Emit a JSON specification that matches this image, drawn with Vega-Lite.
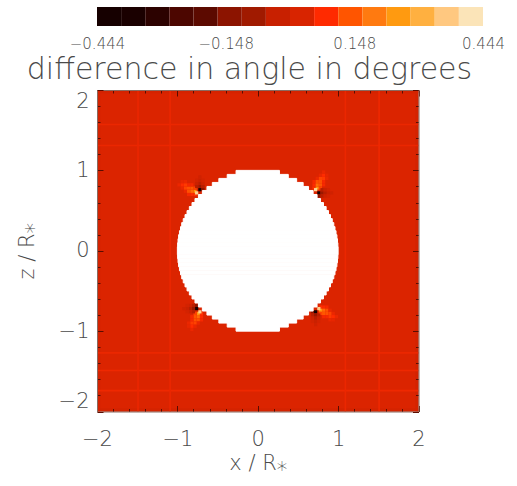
{"$schema":"https://vega.github.io/schema/vega-lite/v6.json","background":"white","padding":{"left":16,"top":7,"right":0,"bottom":0},"spacing":5,"config":{"view":{"stroke":null},"font":"DejaVu Sans","axis":{"grid":false,"labelFont":"DejaVu Sans","titleFont":"DejaVu Sans","labelColor":"#4a4a4a","titleColor":"#4a4a4a","labelFontWeight":200,"titleFontWeight":200}},"vconcat":[{"width":386,"height":19,"data":{"values":[{"x":-0.444,"x2":-0.3885,"v":-0.416},{"x":-0.3885,"x2":-0.333,"v":-0.361},{"x":-0.333,"x2":-0.2775,"v":-0.305},{"x":-0.2775,"x2":-0.222,"v":-0.25},{"x":-0.222,"x2":-0.1665,"v":-0.194},{"x":-0.1665,"x2":-0.111,"v":-0.139},{"x":-0.111,"x2":-0.0555,"v":-0.083},{"x":-0.0555,"x2":0,"v":-0.028},{"x":0,"x2":0.0555,"v":0.028},{"x":0.0555,"x2":0.111,"v":0.083},{"x":0.111,"x2":0.1665,"v":0.139},{"x":0.1665,"x2":0.222,"v":0.194},{"x":0.222,"x2":0.2775,"v":0.25},{"x":0.2775,"x2":0.333,"v":0.305},{"x":0.333,"x2":0.3885,"v":0.361},{"x":0.3885,"x2":0.444,"v":0.416}]},"mark":{"type":"rect"},"encoding":{"x":{"field":"x","type":"quantitative","scale":{"domain":[-0.444,0.444],"nice":false,"zero":false},"axis":{"values":[-0.444,-0.148,0.148,0.444],"format":".3f","domain":false,"ticks":false,"labelFontSize":15,"labelPadding":10,"labelFlush":false,"labelOverlap":false,"title":"difference in angle in degrees","titleFontSize":30,"titlePadding":3,"titleX":152,"titleAnchor":"middle","titleAlign":"center"}},"x2":{"field":"x2"},"color":{"field":"v","type":"quantitative","legend":null,"scale":{"domain":[-0.416,-0.361,-0.305,-0.25,-0.194,-0.139,-0.083,-0.028,0.028,0.083,0.139,0.194,0.25,0.305,0.361,0.416],"range":["#000000","#1a0000","#2c0200","#4c0600","#5c0a00","#8c1400","#a01a00","#c82000","#d82400","#ff2a00","#ff5500","#ff7a10","#ff9a10","#ffb040","#ffc880","#fbe4b8"]}}}},{"width":321.5,"height":321.5,"resolve":{"axis":{"x":"independent","y":"independent"}},"layer":[{"data":{"values":[{"x":-2,"x2":2,"y":-2,"y2":2,"v":0.032},{"x":-2,"x2":2,"y":1.96,"y2":2,"v":0.015},{"x":-2,"x2":2,"y":-2,"y2":-1.96,"v":0.015},{"x":-2,"x2":-1.96,"y":-2,"y2":2,"v":0.015},{"x":1.96,"x2":2,"y":-2,"y2":2,"v":0.015},{"x":-2,"x2":2,"y":1.56,"y2":1.58,"v":0.055},{"x":-2,"x2":2,"y":1.3,"y2":1.32,"v":0.055},{"x":-2,"x2":2,"y":-1.5,"y2":-1.48,"v":0.06},{"x":-2,"x2":2,"y":-1.28,"y2":-1.26,"v":0.055},{"x":-2,"x2":2,"y":-1.75,"y2":-1.73,"v":0.06},{"x":-1.1,"x2":-1.08,"y":-2,"y2":2,"v":0.055},{"x":1.5,"x2":1.52,"y":-2,"y2":2,"v":0.06},{"x":1.08,"x2":1.1,"y":-2,"y2":2,"v":0.055},{"x":-1.5,"x2":-1.48,"y":-2,"y2":2,"v":0.055},
{"x":0.68,"x2":0.72,"y":0.76,"y2":0.8,"v":0.09},{"x":0.72,"x2":0.76,"y":0.76,"y2":0.8,"v":0.24},{"x":0.76,"x2":0.8,"y":0.76,"y2":0.8,"v":0.11},{"x":0.68,"x2":0.72,"y":0.8,"y2":0.84,"v":0.08},{"x":0.72,"x2":0.76,"y":0.8,"y2":0.84,"v":0.17},{"x":0.76,"x2":0.8,"y":0.8,"y2":0.84,"v":0.14},{"x":0.8,"x2":0.84,"y":0.8,"y2":0.84,"v":0.07},{"x":0.68,"x2":0.72,"y":0.84,"y2":0.88,"v":0.07},{"x":0.72,"x2":0.76,"y":0.84,"y2":0.88,"v":0.13},{"x":0.76,"x2":0.8,"y":0.84,"y2":0.88,"v":0.13},{"x":0.8,"x2":0.84,"y":0.84,"y2":0.88,"v":0.07},{"x":0.72,"x2":0.76,"y":0.88,"y2":0.92,"v":0.055},{"x":0.76,"x2":0.8,"y":0.88,"y2":0.92,"v":0.11},{"x":0.8,"x2":0.84,"y":0.88,"y2":0.92,"v":0.1},{"x":0.84,"x2":0.88,"y":0.88,"y2":0.92,"v":0.055},{"x":0.76,"x2":0.8,"y":0.92,"y2":0.96,"v":0.055},{"x":0.8,"x2":0.84,"y":0.92,"y2":0.96,"v":0.085},{"x":0.84,"x2":0.88,"y":0.92,"y2":0.96,"v":0.05},{"x":0.8,"x2":0.84,"y":0.96,"y2":1,"v":0.055},{"x":0.7,"x2":0.74,"y":0.74,"y2":0.78,"v":0.38},{"x":0.74,"x2":0.78,"y":0.7,"y2":0.74,"v":-0.42},{"x":0.78,"x2":0.82,"y":0.7,"y2":0.74,"v":-0.1},{"x":0.82,"x2":0.86,"y":0.7,"y2":0.74,"v":-0.05},{"x":0.86,"x2":0.9,"y":0.7,"y2":0.74,"v":-0.02},{"x":0.9,"x2":0.94,"y":0.7,"y2":0.74,"v":0},{"x":0.78,"x2":0.82,"y":0.74,"y2":0.78,"v":-0.05},{"x":0.82,"x2":0.86,"y":0.74,"y2":0.78,"v":-0.02},{"x":0.86,"x2":0.9,"y":0.74,"y2":0.78,"v":0.01},{"x":0.74,"x2":0.78,"y":0.66,"y2":0.7,"v":-0.14},{"x":0.78,"x2":0.82,"y":0.66,"y2":0.7,"v":-0.05},{"x":0.82,"x2":0.86,"y":0.66,"y2":0.7,"v":-0.01},{"x":0.86,"x2":0.9,"y":0.66,"y2":0.7,"v":0.01},
{"x":-0.8,"x2":-0.76,"y":0.68,"y2":0.72,"v":0.09},{"x":-0.8,"x2":-0.76,"y":0.72,"y2":0.76,"v":0.24},{"x":-0.8,"x2":-0.76,"y":0.76,"y2":0.8,"v":0.11},{"x":-0.84,"x2":-0.8,"y":0.68,"y2":0.72,"v":0.08},{"x":-0.84,"x2":-0.8,"y":0.72,"y2":0.76,"v":0.17},{"x":-0.84,"x2":-0.8,"y":0.76,"y2":0.8,"v":0.14},{"x":-0.84,"x2":-0.8,"y":0.8,"y2":0.84,"v":0.07},{"x":-0.88,"x2":-0.84,"y":0.68,"y2":0.72,"v":0.07},{"x":-0.88,"x2":-0.84,"y":0.72,"y2":0.76,"v":0.13},{"x":-0.88,"x2":-0.84,"y":0.76,"y2":0.8,"v":0.13},{"x":-0.88,"x2":-0.84,"y":0.8,"y2":0.84,"v":0.07},{"x":-0.92,"x2":-0.88,"y":0.72,"y2":0.76,"v":0.055},{"x":-0.92,"x2":-0.88,"y":0.76,"y2":0.8,"v":0.11},{"x":-0.92,"x2":-0.88,"y":0.8,"y2":0.84,"v":0.1},{"x":-0.92,"x2":-0.88,"y":0.84,"y2":0.88,"v":0.055},{"x":-0.96,"x2":-0.92,"y":0.76,"y2":0.8,"v":0.055},{"x":-0.96,"x2":-0.92,"y":0.8,"y2":0.84,"v":0.085},{"x":-0.96,"x2":-0.92,"y":0.84,"y2":0.88,"v":0.05},{"x":-1,"x2":-0.96,"y":0.8,"y2":0.84,"v":0.055},{"x":-0.78,"x2":-0.74,"y":0.7,"y2":0.74,"v":0.38},{"x":-0.74,"x2":-0.7,"y":0.74,"y2":0.78,"v":-0.42},{"x":-0.74,"x2":-0.7,"y":0.78,"y2":0.82,"v":-0.1},{"x":-0.74,"x2":-0.7,"y":0.82,"y2":0.86,"v":-0.05},{"x":-0.74,"x2":-0.7,"y":0.86,"y2":0.9,"v":-0.02},{"x":-0.74,"x2":-0.7,"y":0.9,"y2":0.94,"v":0},{"x":-0.78,"x2":-0.74,"y":0.78,"y2":0.82,"v":-0.05},{"x":-0.78,"x2":-0.74,"y":0.82,"y2":0.86,"v":-0.02},{"x":-0.78,"x2":-0.74,"y":0.86,"y2":0.9,"v":0.01},{"x":-0.7,"x2":-0.66,"y":0.74,"y2":0.78,"v":-0.14},{"x":-0.7,"x2":-0.66,"y":0.78,"y2":0.82,"v":-0.05},{"x":-0.7,"x2":-0.66,"y":0.82,"y2":0.86,"v":-0.01},{"x":-0.7,"x2":-0.66,"y":0.86,"y2":0.9,"v":0.01},
{"x":-0.72,"x2":-0.68,"y":-0.8,"y2":-0.76,"v":0.09},{"x":-0.76,"x2":-0.72,"y":-0.8,"y2":-0.76,"v":0.24},{"x":-0.8,"x2":-0.76,"y":-0.8,"y2":-0.76,"v":0.11},{"x":-0.72,"x2":-0.68,"y":-0.84,"y2":-0.8,"v":0.08},{"x":-0.76,"x2":-0.72,"y":-0.84,"y2":-0.8,"v":0.17},{"x":-0.8,"x2":-0.76,"y":-0.84,"y2":-0.8,"v":0.14},{"x":-0.84,"x2":-0.8,"y":-0.84,"y2":-0.8,"v":0.07},{"x":-0.72,"x2":-0.68,"y":-0.88,"y2":-0.84,"v":0.07},{"x":-0.76,"x2":-0.72,"y":-0.88,"y2":-0.84,"v":0.13},{"x":-0.8,"x2":-0.76,"y":-0.88,"y2":-0.84,"v":0.13},{"x":-0.84,"x2":-0.8,"y":-0.88,"y2":-0.84,"v":0.07},{"x":-0.76,"x2":-0.72,"y":-0.92,"y2":-0.88,"v":0.055},{"x":-0.8,"x2":-0.76,"y":-0.92,"y2":-0.88,"v":0.11},{"x":-0.84,"x2":-0.8,"y":-0.92,"y2":-0.88,"v":0.1},{"x":-0.88,"x2":-0.84,"y":-0.92,"y2":-0.88,"v":0.055},{"x":-0.8,"x2":-0.76,"y":-0.96,"y2":-0.92,"v":0.055},{"x":-0.84,"x2":-0.8,"y":-0.96,"y2":-0.92,"v":0.085},{"x":-0.88,"x2":-0.84,"y":-0.96,"y2":-0.92,"v":0.05},{"x":-0.84,"x2":-0.8,"y":-1,"y2":-0.96,"v":0.055},{"x":-0.74,"x2":-0.7,"y":-0.78,"y2":-0.74,"v":0.38},{"x":-0.78,"x2":-0.74,"y":-0.74,"y2":-0.7,"v":-0.42},{"x":-0.82,"x2":-0.78,"y":-0.74,"y2":-0.7,"v":-0.1},{"x":-0.86,"x2":-0.82,"y":-0.74,"y2":-0.7,"v":-0.05},{"x":-0.9,"x2":-0.86,"y":-0.74,"y2":-0.7,"v":-0.02},{"x":-0.94,"x2":-0.9,"y":-0.74,"y2":-0.7,"v":0},{"x":-0.82,"x2":-0.78,"y":-0.78,"y2":-0.74,"v":-0.05},{"x":-0.86,"x2":-0.82,"y":-0.78,"y2":-0.74,"v":-0.02},{"x":-0.9,"x2":-0.86,"y":-0.78,"y2":-0.74,"v":0.01},{"x":-0.78,"x2":-0.74,"y":-0.7,"y2":-0.66,"v":-0.14},{"x":-0.82,"x2":-0.78,"y":-0.7,"y2":-0.66,"v":-0.05},{"x":-0.86,"x2":-0.82,"y":-0.7,"y2":-0.66,"v":-0.01},{"x":-0.9,"x2":-0.86,"y":-0.7,"y2":-0.66,"v":0.01},
{"x":0.76,"x2":0.8,"y":-0.72,"y2":-0.68,"v":0.09},{"x":0.76,"x2":0.8,"y":-0.76,"y2":-0.72,"v":0.24},{"x":0.76,"x2":0.8,"y":-0.8,"y2":-0.76,"v":0.11},{"x":0.8,"x2":0.84,"y":-0.72,"y2":-0.68,"v":0.08},{"x":0.8,"x2":0.84,"y":-0.76,"y2":-0.72,"v":0.17},{"x":0.8,"x2":0.84,"y":-0.8,"y2":-0.76,"v":0.14},{"x":0.8,"x2":0.84,"y":-0.84,"y2":-0.8,"v":0.07},{"x":0.84,"x2":0.88,"y":-0.72,"y2":-0.68,"v":0.07},{"x":0.84,"x2":0.88,"y":-0.76,"y2":-0.72,"v":0.13},{"x":0.84,"x2":0.88,"y":-0.8,"y2":-0.76,"v":0.13},{"x":0.84,"x2":0.88,"y":-0.84,"y2":-0.8,"v":0.07},{"x":0.88,"x2":0.92,"y":-0.76,"y2":-0.72,"v":0.055},{"x":0.88,"x2":0.92,"y":-0.8,"y2":-0.76,"v":0.11},{"x":0.88,"x2":0.92,"y":-0.84,"y2":-0.8,"v":0.1},{"x":0.88,"x2":0.92,"y":-0.88,"y2":-0.84,"v":0.055},{"x":0.92,"x2":0.96,"y":-0.8,"y2":-0.76,"v":0.055},{"x":0.92,"x2":0.96,"y":-0.84,"y2":-0.8,"v":0.085},{"x":0.92,"x2":0.96,"y":-0.88,"y2":-0.84,"v":0.05},{"x":0.96,"x2":1,"y":-0.84,"y2":-0.8,"v":0.055},{"x":0.74,"x2":0.78,"y":-0.74,"y2":-0.7,"v":0.38},{"x":0.7,"x2":0.74,"y":-0.78,"y2":-0.74,"v":-0.42},{"x":0.7,"x2":0.74,"y":-0.82,"y2":-0.78,"v":-0.1},{"x":0.7,"x2":0.74,"y":-0.86,"y2":-0.82,"v":-0.05},{"x":0.7,"x2":0.74,"y":-0.9,"y2":-0.86,"v":-0.02},{"x":0.7,"x2":0.74,"y":-0.94,"y2":-0.9,"v":0},{"x":0.74,"x2":0.78,"y":-0.82,"y2":-0.78,"v":-0.05},{"x":0.74,"x2":0.78,"y":-0.86,"y2":-0.82,"v":-0.02},{"x":0.74,"x2":0.78,"y":-0.9,"y2":-0.86,"v":0.01},{"x":0.66,"x2":0.7,"y":-0.78,"y2":-0.74,"v":-0.14},{"x":0.66,"x2":0.7,"y":-0.82,"y2":-0.78,"v":-0.05},{"x":0.66,"x2":0.7,"y":-0.86,"y2":-0.82,"v":-0.01},{"x":0.66,"x2":0.7,"y":-0.9,"y2":-0.86,"v":0.01}]},"mark":{"type":"rect"},"encoding":{"x":{"field":"x","type":"quantitative","scale":{"domain":[-2,2],"nice":false,"zero":false},"axis":{"zindex":1,"orient":"bottom","values":[-2,-1.8,-1.6,-1.4,-1.2,-1,-0.8,-0.6,-0.4,-0.2,0,0.2,0.4,0.6,0.8,1,1.2,1.4,1.6,1.8,2],"labelExpr":"datum.value%1===0?format(datum.value,'d'):''","tickColor":"#5a0c00","tickWidth":1,"tickSize":{"condition":{"test":"datum.value%1===0","value":-6},"value":-3},"domainColor":"#8a6a60","labelFontSize":21,"labelPadding":23,"labelFlush":false,"labelOverlap":false,"title":"x / R⁎","titleFontSize":21,"titlePadding":0}},"x2":{"field":"x2"},"y":{"field":"y","type":"quantitative","scale":{"domain":[-2,2],"nice":false,"zero":false},"axis":{"zindex":1,"orient":"left","values":[-2,-1.8,-1.6,-1.4,-1.2,-1,-0.8,-0.6,-0.4,-0.2,0,0.2,0.4,0.6,0.8,1,1.2,1.4,1.6,1.8,2],"labelExpr":"datum.value%1===0?format(datum.value,'d'):''","tickColor":"#5a0c00","tickWidth":1,"tickSize":{"condition":{"test":"datum.value%1===0","value":-6},"value":-3},"domainColor":"#8a6a60","labelFontSize":21,"labelPadding":14,"labelFlush":true,"labelOverlap":false,"title":"z / R⁎","titleFontSize":21,"titlePadding":21}},"y2":{"field":"y2"},"color":{"field":"v","type":"quantitative","legend":null,"scale":{"domain":[-0.416,-0.361,-0.305,-0.25,-0.194,-0.139,-0.083,-0.028,0.028,0.083,0.139,0.194,0.25,0.305,0.361,0.416],"range":["#000000","#1a0000","#2c0200","#4c0600","#5c0a00","#8c1400","#a01a00","#c82000","#d82400","#ff2a00","#ff5500","#ff7a10","#ff9a10","#ffb040","#ffc880","#fbe4b8"]}}}},{"data":{"values":[{"x":-0.27,"x2":0.27,"y":0.95,"y2":1},{"x":-0.38,"x2":0.38,"y":0.9,"y2":0.95},{"x":-0.484,"x2":0.484,"y":0.85,"y2":0.9},{"x":-0.565,"x2":0.565,"y":0.8,"y2":0.85},{"x":-0.632,"x2":0.632,"y":0.75,"y2":0.8},{"x":-0.689,"x2":0.689,"y":0.7,"y2":0.75},{"x":-0.738,"x2":0.738,"y":0.65,"y2":0.7},{"x":-0.781,"x2":0.781,"y":0.6,"y2":0.65},{"x":-0.818,"x2":0.818,"y":0.55,"y2":0.6},{"x":-0.851,"x2":0.851,"y":0.5,"y2":0.55},{"x":-0.88,"x2":0.88,"y":0.45,"y2":0.5},{"x":-0.905,"x2":0.905,"y":0.4,"y2":0.45},{"x":-0.927,"x2":0.927,"y":0.35,"y2":0.4},{"x":-0.946,"x2":0.946,"y":0.3,"y2":0.35},{"x":-0.961,"x2":0.961,"y":0.25,"y2":0.3},{"x":-0.974,"x2":0.974,"y":0.2,"y2":0.25},{"x":-0.985,"x2":0.985,"y":0.15,"y2":0.2},{"x":-0.992,"x2":0.992,"y":0.1,"y2":0.15},{"x":-0.997,"x2":0.997,"y":0.05,"y2":0.1},{"x":-1,"x2":1,"y":-0.05,"y2":0.05},{"x":-0.997,"x2":0.997,"y":-0.1,"y2":-0.05},{"x":-0.992,"x2":0.992,"y":-0.15,"y2":-0.1},{"x":-0.985,"x2":0.985,"y":-0.2,"y2":-0.15},{"x":-0.974,"x2":0.974,"y":-0.25,"y2":-0.2},{"x":-0.961,"x2":0.961,"y":-0.3,"y2":-0.25},{"x":-0.946,"x2":0.946,"y":-0.35,"y2":-0.3},{"x":-0.927,"x2":0.927,"y":-0.4,"y2":-0.35},{"x":-0.905,"x2":0.905,"y":-0.45,"y2":-0.4},{"x":-0.88,"x2":0.88,"y":-0.5,"y2":-0.45},{"x":-0.851,"x2":0.851,"y":-0.55,"y2":-0.5},{"x":-0.818,"x2":0.818,"y":-0.6,"y2":-0.55},{"x":-0.781,"x2":0.781,"y":-0.65,"y2":-0.6},{"x":-0.738,"x2":0.738,"y":-0.7,"y2":-0.65},{"x":-0.689,"x2":0.689,"y":-0.75,"y2":-0.7},{"x":-0.632,"x2":0.632,"y":-0.8,"y2":-0.75},{"x":-0.565,"x2":0.565,"y":-0.85,"y2":-0.8},{"x":-0.484,"x2":0.484,"y":-0.9,"y2":-0.85},{"x":-0.38,"x2":0.38,"y":-0.95,"y2":-0.9},{"x":-0.27,"x2":0.27,"y":-1,"y2":-0.95}]},"mark":{"type":"rect","color":"white","stroke":"white","strokeWidth":1},"encoding":{"x":{"field":"x","type":"quantitative","axis":{"zindex":1,"orient":"top","values":[-2,-1.8,-1.6,-1.4,-1.2,-1,-0.8,-0.6,-0.4,-0.2,0,0.2,0.4,0.6,0.8,1,1.2,1.4,1.6,1.8,2],"labels":false,"title":null,"tickColor":"#5a0c00","tickWidth":1,"tickSize":{"condition":{"test":"datum.value%1===0","value":-6},"value":-3},"domainColor":"#8a6a60"}},"x2":{"field":"x2"},"y":{"field":"y","type":"quantitative","axis":{"zindex":1,"orient":"right","values":[-2,-1.8,-1.6,-1.4,-1.2,-1,-0.8,-0.6,-0.4,-0.2,0,0.2,0.4,0.6,0.8,1,1.2,1.4,1.6,1.8,2],"labels":false,"title":null,"tickColor":"#5a0c00","tickWidth":1,"tickSize":{"condition":{"test":"datum.value%1===0","value":-6},"value":-3},"domainColor":"#8a6a60"}},"y2":{"field":"y2"}}}]}]}
